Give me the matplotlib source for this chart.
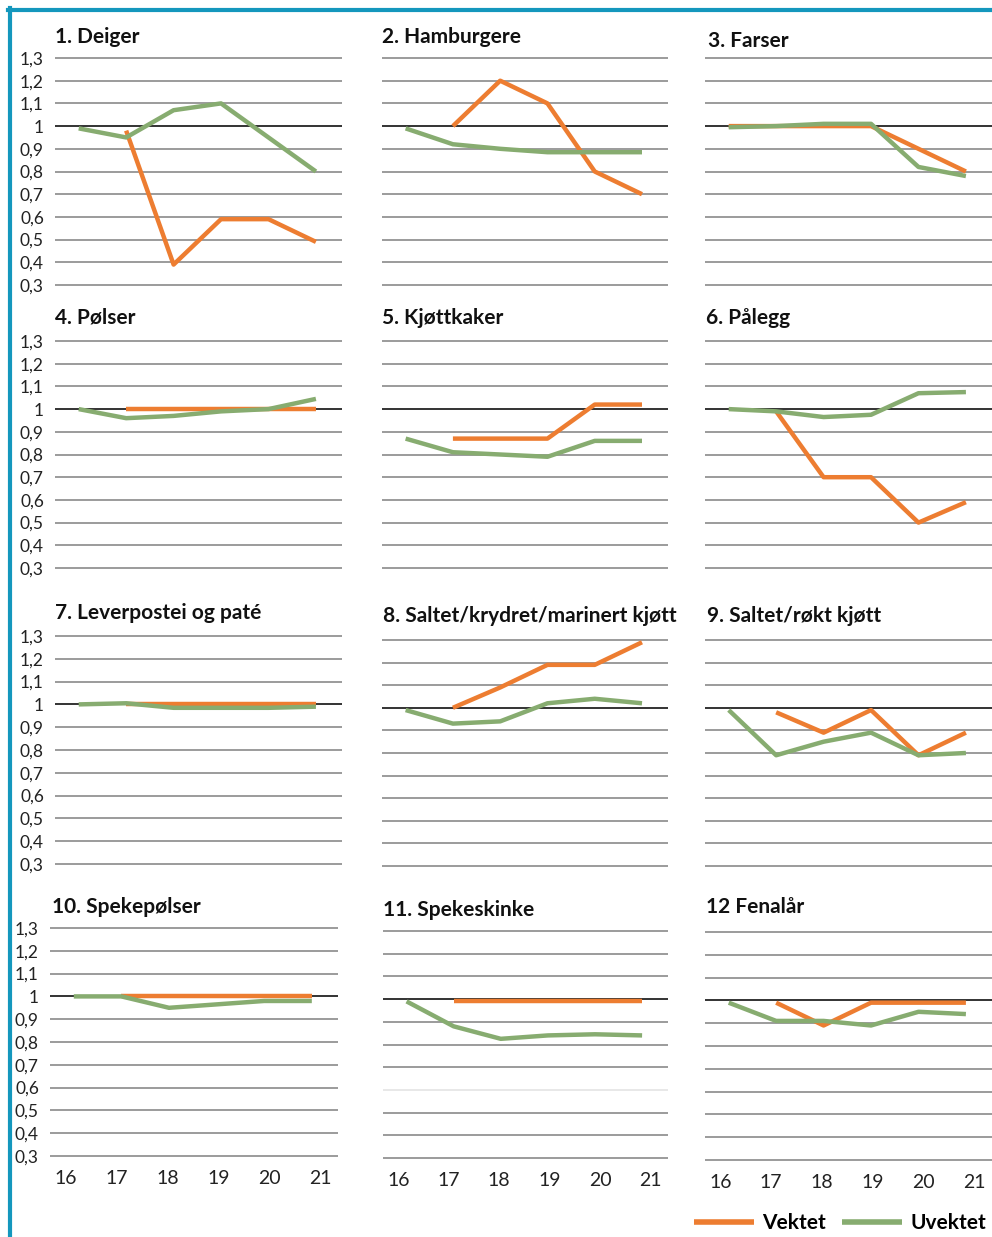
import numpy as np
import matplotlib
matplotlib.use('Agg')
import matplotlib.pyplot as plt
from matplotlib.lines import Line2D

plt.rcParams['font.family'] = ['Lato', 'DejaVu Sans']

nan = np.nan
years = [16, 17, 18, 19, 20, 21]
year_labels = ['16', '17', '18', '19', '20', '21']

titles = ['1. Deiger', '2. Hamburgere', '3. Farser',
          '4. Pølser', '5. Kjøttkaker', '6. Pålegg',
          '7. Leverpostei og paté', '8. Saltet/krydret/marinert kjøtt', '9. Saltet/røkt kjøtt',
          '10. Spekepølser', '11. Spekeskinke', '12 Fenalår']

# Vektet (orange)
vektet = [
    [nan, 0.98, 0.39, 0.59, 0.59, 0.49],
    [nan, 1.00, 1.20, 1.10, 0.80, 0.70],
    [1.00, 1.00, 1.00, 1.00, 0.90, 0.80],
    [nan, 1.00, 1.00, 1.00, 1.00, 1.00],
    [nan, 0.87, 0.87, 0.87, 1.02, 1.02],
    [nan, 0.99, 0.70, 0.70, 0.50, 0.59],
    [nan, 1.00, 1.00, 1.00, 1.00, 1.00],
    [nan, 1.00, 1.09, 1.19, 1.19, 1.29],
    [nan, 0.98, 0.89, 0.99, 0.79, 0.89],
    [nan, 1.00, 1.00, 1.00, 1.00, 1.00],
    [nan, 0.99, 0.99, 0.99, 0.99, 0.99],
    [nan, 0.99, 0.89, 0.99, 0.99, 0.99],
]

# Uvektet (green)
uvektet = [
    [0.99, 0.95, 1.07, 1.10, 0.95, 0.80],
    [0.99, 0.92, 0.90, 0.885, 0.885, 0.885],
    [0.995, 1.00, 1.01, 1.01, 0.82, 0.78],
    [1.00, 0.96, 0.97, 0.99, 1.00, 1.045],
    [0.87, 0.81, 0.80, 0.79, 0.86, 0.86],
    [1.00, 0.99, 0.965, 0.975, 1.07, 1.075],
    [1.00, 1.005, 0.985, 0.985, 0.985, 0.99],
    [0.99, 0.93, 0.94, 1.02, 1.04, 1.02],
    [0.99, 0.79, 0.85, 0.89, 0.79, 0.80],
    [1.00, 1.00, 0.95, 0.965, 0.98, 0.98],
    [0.99, 0.88, 0.825, 0.84, 0.845, 0.84],
    [0.99, 0.91, 0.91, 0.89, 0.95, 0.94],
]

levels = [0.3, 0.4, 0.5, 0.6, 0.7, 0.8, 0.9, 1.0, 1.1, 1.2, 1.3]
level_labels = ['0,3', '0,4', '0,5', '0,6', '0,7', '0,8', '0,9', '1', '1,1', '1,2', '1,3']

ORANGE = '#ED7D31'
GREEN = '#87AC70'
TEAL = '#1497BD'

W, H = 992, 1237
fig = plt.figure(figsize=(W / 100, H / 100), dpi=100)

# panel geometry in pixels: x0, x1, y(1.3), y(0.3)
geom = [
    (55, 342, 58, 285), (382, 668, 58, 285), (705, 992, 58, 285),
    (55, 342, 341, 568), (382, 668, 341, 568), (705, 992, 341, 568),
    (55, 342, 636, 864), (382, 668, 640, 866), (705, 992, 640, 866),
    (50, 338, 928, 1156), (383, 668, 931, 1158), (705, 992, 932, 1160),
]
title_pos = [
    (55, 37), (382, 37), (708, 41),
    (55, 318), (382, 318), (706, 318),
    (55, 613), (383, 616), (707, 616),
    (52, 907), (383, 910), (706, 907),
]

# category labels sit a little wider apart than the plotted points
k = 0.933
mid = 18.45
fwd = lambda x: mid + (np.asarray(x) - mid) * k
inv = lambda v: mid + (np.asarray(v) - mid) / k

handles = None
for i in range(12):
    x0, x1, yt, yb = geom[i]
    pad = (yb - yt) / 10 * 0.2
    top = yt - pad
    bot = yb + pad
    ax = fig.add_axes([x0 / W, 1 - bot / H, (x1 - x0) / W, (bot - top) / H])
    ax.set_ylim(0.28, 1.32)
    ax.set_xlim(15.5, 21.55)
    for s in ax.spines.values():
        s.set_visible(False)
    ax.set_yticks(levels)
    ax.yaxis.grid(True, color='#8a8a8a', lw=1.2)
    for lv, gl in zip(levels, ax.get_ygridlines()):
        if abs(lv - 1.0) < 1e-9:
            gl.set_color('#111111')
        if i == 10 and abs(lv - 0.6) < 1e-9:
            gl.set_color('#e4e4e4')
    if i % 3 == 0:
        ax.set_yticklabels(level_labels, fontsize=12.5, color='#222222')
        ax.tick_params(axis='y', length=0, pad=8)
    else:
        ax.tick_params(axis='y', length=0, labelleft=False)
    ax.set_xticks([])
    if i >= 9:
        sec = ax.secondary_xaxis('bottom', functions=(fwd, inv))
        sec.set_xticks(years)
        sec.set_xticklabels(year_labels, fontsize=14, color='#222222')
        sec.tick_params(axis='x', length=0, pad=7)
        for s in sec.spines.values():
            s.set_visible(False)

    lo, = ax.plot(years, vektet[i], color=ORANGE, lw=3.2, solid_capstyle='butt')
    lg, = ax.plot(years, uvektet[i], color=GREEN, lw=3.2, solid_capstyle='butt')
    if handles is None:
        handles = [lo, lg]

    tx, ty = title_pos[i]
    fig.text(tx / W, 1 - ty / H, titles[i], fontsize=15, fontweight='bold',
             color='#111111', ha='left', va='center')

leg = fig.legend(handles, ['Vektet', 'Uvektet'], loc='center right',
                 bbox_to_anchor=(1005 / W, 1 - 1223 / H), ncol=2, frameon=False,
                 handlelength=2.9, handletextpad=0.4, columnspacing=0.75,
                 prop={'weight': 'bold', 'size': 15})
for ln in leg.get_lines():
    ln.set_linewidth(4)

# teal frame on left and top
fig.add_artist(Line2D([10 / W, 10 / W], [0, 1 - 8 / H], color=TEAL, lw=3,
                      transform=fig.transFigure))
fig.add_artist(Line2D([8 / W, 1], [1 - 10 / H, 1 - 10 / H], color=TEAL, lw=3,
                      transform=fig.transFigure))

fig.savefig('out.png', dpi=100)
